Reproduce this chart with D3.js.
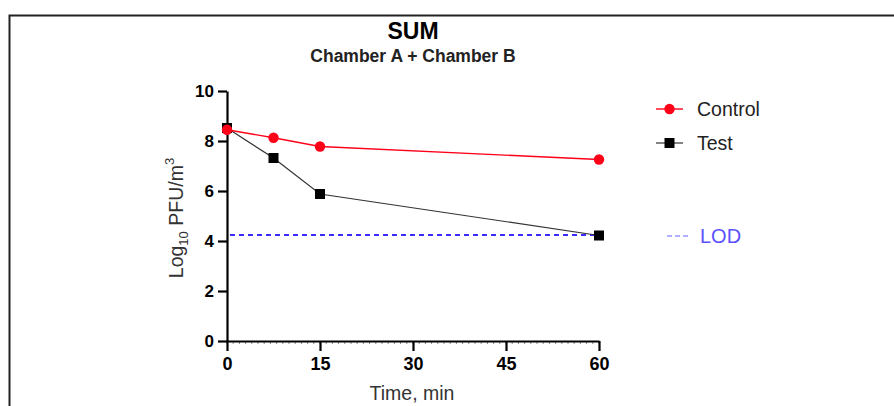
<!DOCTYPE html>
<html lang="en">
<head>
<meta charset="utf-8">
<title>SUM</title>
<script src="https://cdn.jsdelivr.net/npm/d3@7"></script>
<style>
  html, body { margin: 0; padding: 0; background: #fff; }
  svg { display: block; font-family: "Liberation Sans", Arial, sans-serif; }
</style>
</head>
<body>
<script>
// data
const times = [0, 7.5, 15, 60];
const control = [8.45, 8.13, 7.78, 7.26];
const test = [8.52, 7.32, 5.88, 4.22];
const lod = 4.24;
const xTicks = [0, 15, 30, 45, 60];
const yTicks = [0, 2, 4, 6, 8, 10];
const seriesNames = ["Control", "Test"];

const w = 894, h = 406;
const red = "#ff0019", blue = "#3b2bff";

const svg = d3.select("body").append("svg")
  .attr("width", w)
  .attr("height", h);

// frame edge (top + left)
svg.append("path")
  .attr("d", "M9.5,406V15.5H894")
  .attr("fill", "none")
  .attr("stroke", "#222")
  .attr("stroke-width", 2);

const x = d3.scaleLinear().domain([0, 60]).range([227, 599]);
const y = d3.scaleLinear().domain([0, 10]).range([341, 91]);

// titles
svg.append("text")
  .attr("x", 413).attr("y", 39)
  .attr("text-anchor", "middle")
  .attr("font-size", 23).attr("font-weight", "bold")
  .text("SUM");
svg.append("text")
  .attr("x", 413).attr("y", 61.5)
  .attr("text-anchor", "middle")
  .attr("font-size", 17.5).attr("font-weight", "bold")
  .attr("fill", "#222")
  .text("Chamber A + Chamber B");

// minor ticks on x
svg.append("g")
  .selectAll("line")
  .data(d3.range(0, 61))
  .enter().append("line")
  .attr("x1", d => x(d)).attr("x2", d => x(d))
  .attr("y1", 342).attr("y2", 344)
  .attr("stroke", "#888")
  .attr("stroke-width", 1);

// axes
const xAxis = svg.append("g")
  .attr("transform", "translate(0," + y(0) + ")")
  .call(d3.axisBottom(x).tickValues(xTicks).tickSize(10).tickSizeOuter(0).tickPadding(6));
const yAxis = svg.append("g")
  .attr("transform", "translate(" + x(0) + ",0)")
  .call(d3.axisLeft(y).tickValues(yTicks).tickSize(9).tickSizeOuter(0).tickPadding(4));

[xAxis, yAxis].forEach(g => {
  g.select(".domain").attr("stroke", "#000").attr("stroke-width", 2.2);
  g.selectAll(".tick line").attr("stroke", "#000").attr("stroke-width", 2.2);
  g.selectAll(".tick text")
    .attr("font-family", "'Liberation Sans', Arial, sans-serif")
    .attr("font-weight", "bold")
    .attr("fill", "#000");
});
xAxis.selectAll(".tick text").attr("font-size", 18);
yAxis.selectAll(".tick text").attr("font-size", 17);

// axis titles
svg.append("text")
  .attr("x", 412).attr("y", 400)
  .attr("text-anchor", "middle")
  .attr("font-size", 19.5)
  .attr("fill", "#333")
  .text("Time, min");

const yt = svg.append("text")
  .attr("transform", "translate(183,218) rotate(-90)")
  .attr("text-anchor", "middle")
  .attr("font-size", 19.5)
  .attr("fill", "#333");
yt.append("tspan").text("Log");
yt.append("tspan").attr("font-size", 13).attr("dy", 5).text("10");
yt.append("tspan").attr("dy", -5).text(" PFU/m");
yt.append("tspan").attr("font-size", 13).attr("dy", -9).text("3");

// LOD
svg.append("line")
  .attr("x1", x(0) + 3).attr("x2", x(60))
  .attr("y1", y(lod)).attr("y2", y(lod))
  .attr("stroke", blue)
  .attr("stroke-width", 2)
  .attr("stroke-dasharray", "5,4");

const line = d3.line().x(d => x(d[0])).y(d => y(d[1]));

// Test
const testPts = times.map((t, i) => [t, test[i]]);
svg.append("path")
  .datum(testPts)
  .attr("d", line)
  .attr("fill", "none")
  .attr("stroke", "#333")
  .attr("stroke-width", 1.2);
svg.append("g").selectAll("rect")
  .data(testPts)
  .enter().append("rect")
  .attr("x", d => x(d[0]) - 5).attr("y", d => y(d[1]) - 5)
  .attr("width", 10).attr("height", 10)
  .attr("fill", "#000");

// Control
const ctrlPts = times.map((t, i) => [t, control[i]]);
svg.append("path")
  .datum(ctrlPts)
  .attr("d", line)
  .attr("fill", "none")
  .attr("stroke", red)
  .attr("stroke-width", 1.4);
svg.append("g").selectAll("circle")
  .data(ctrlPts)
  .enter().append("circle")
  .attr("cx", d => x(d[0])).attr("cy", d => y(d[1]))
  .attr("r", 5.2)
  .attr("fill", red);

// legend
const lg = svg.append("g");
lg.append("line").attr("x1", 656).attr("x2", 683).attr("y1", 109).attr("y2", 109)
  .attr("stroke", red).attr("stroke-width", 1.4);
lg.append("circle").attr("cx", 669.5).attr("cy", 109).attr("r", 5.2).attr("fill", red);
lg.append("text").attr("x", 697).attr("y", 115.5).attr("font-size", 19.5).attr("fill", "#222")
  .text(seriesNames[0]);

lg.append("line").attr("x1", 656).attr("x2", 683).attr("y1", 143).attr("y2", 143)
  .attr("stroke", "#333").attr("stroke-width", 1.2);
lg.append("rect").attr("x", 664.5).attr("y", 138).attr("width", 10).attr("height", 10).attr("fill", "#000");
lg.append("text").attr("x", 697).attr("y", 149.5).attr("font-size", 19.5).attr("fill", "#222")
  .text(seriesNames[1]);

lg.append("line").attr("x1", 667).attr("x2", 688).attr("y1", 236).attr("y2", 236)
  .attr("stroke", "#6a63ff").attr("stroke-width", 1.2).attr("stroke-dasharray", "5,3");
lg.append("text").attr("x", 700).attr("y", 243).attr("font-size", 20).attr("fill", "#5b52ff")
  .text("LOD");
</script>
</body>
</html>
